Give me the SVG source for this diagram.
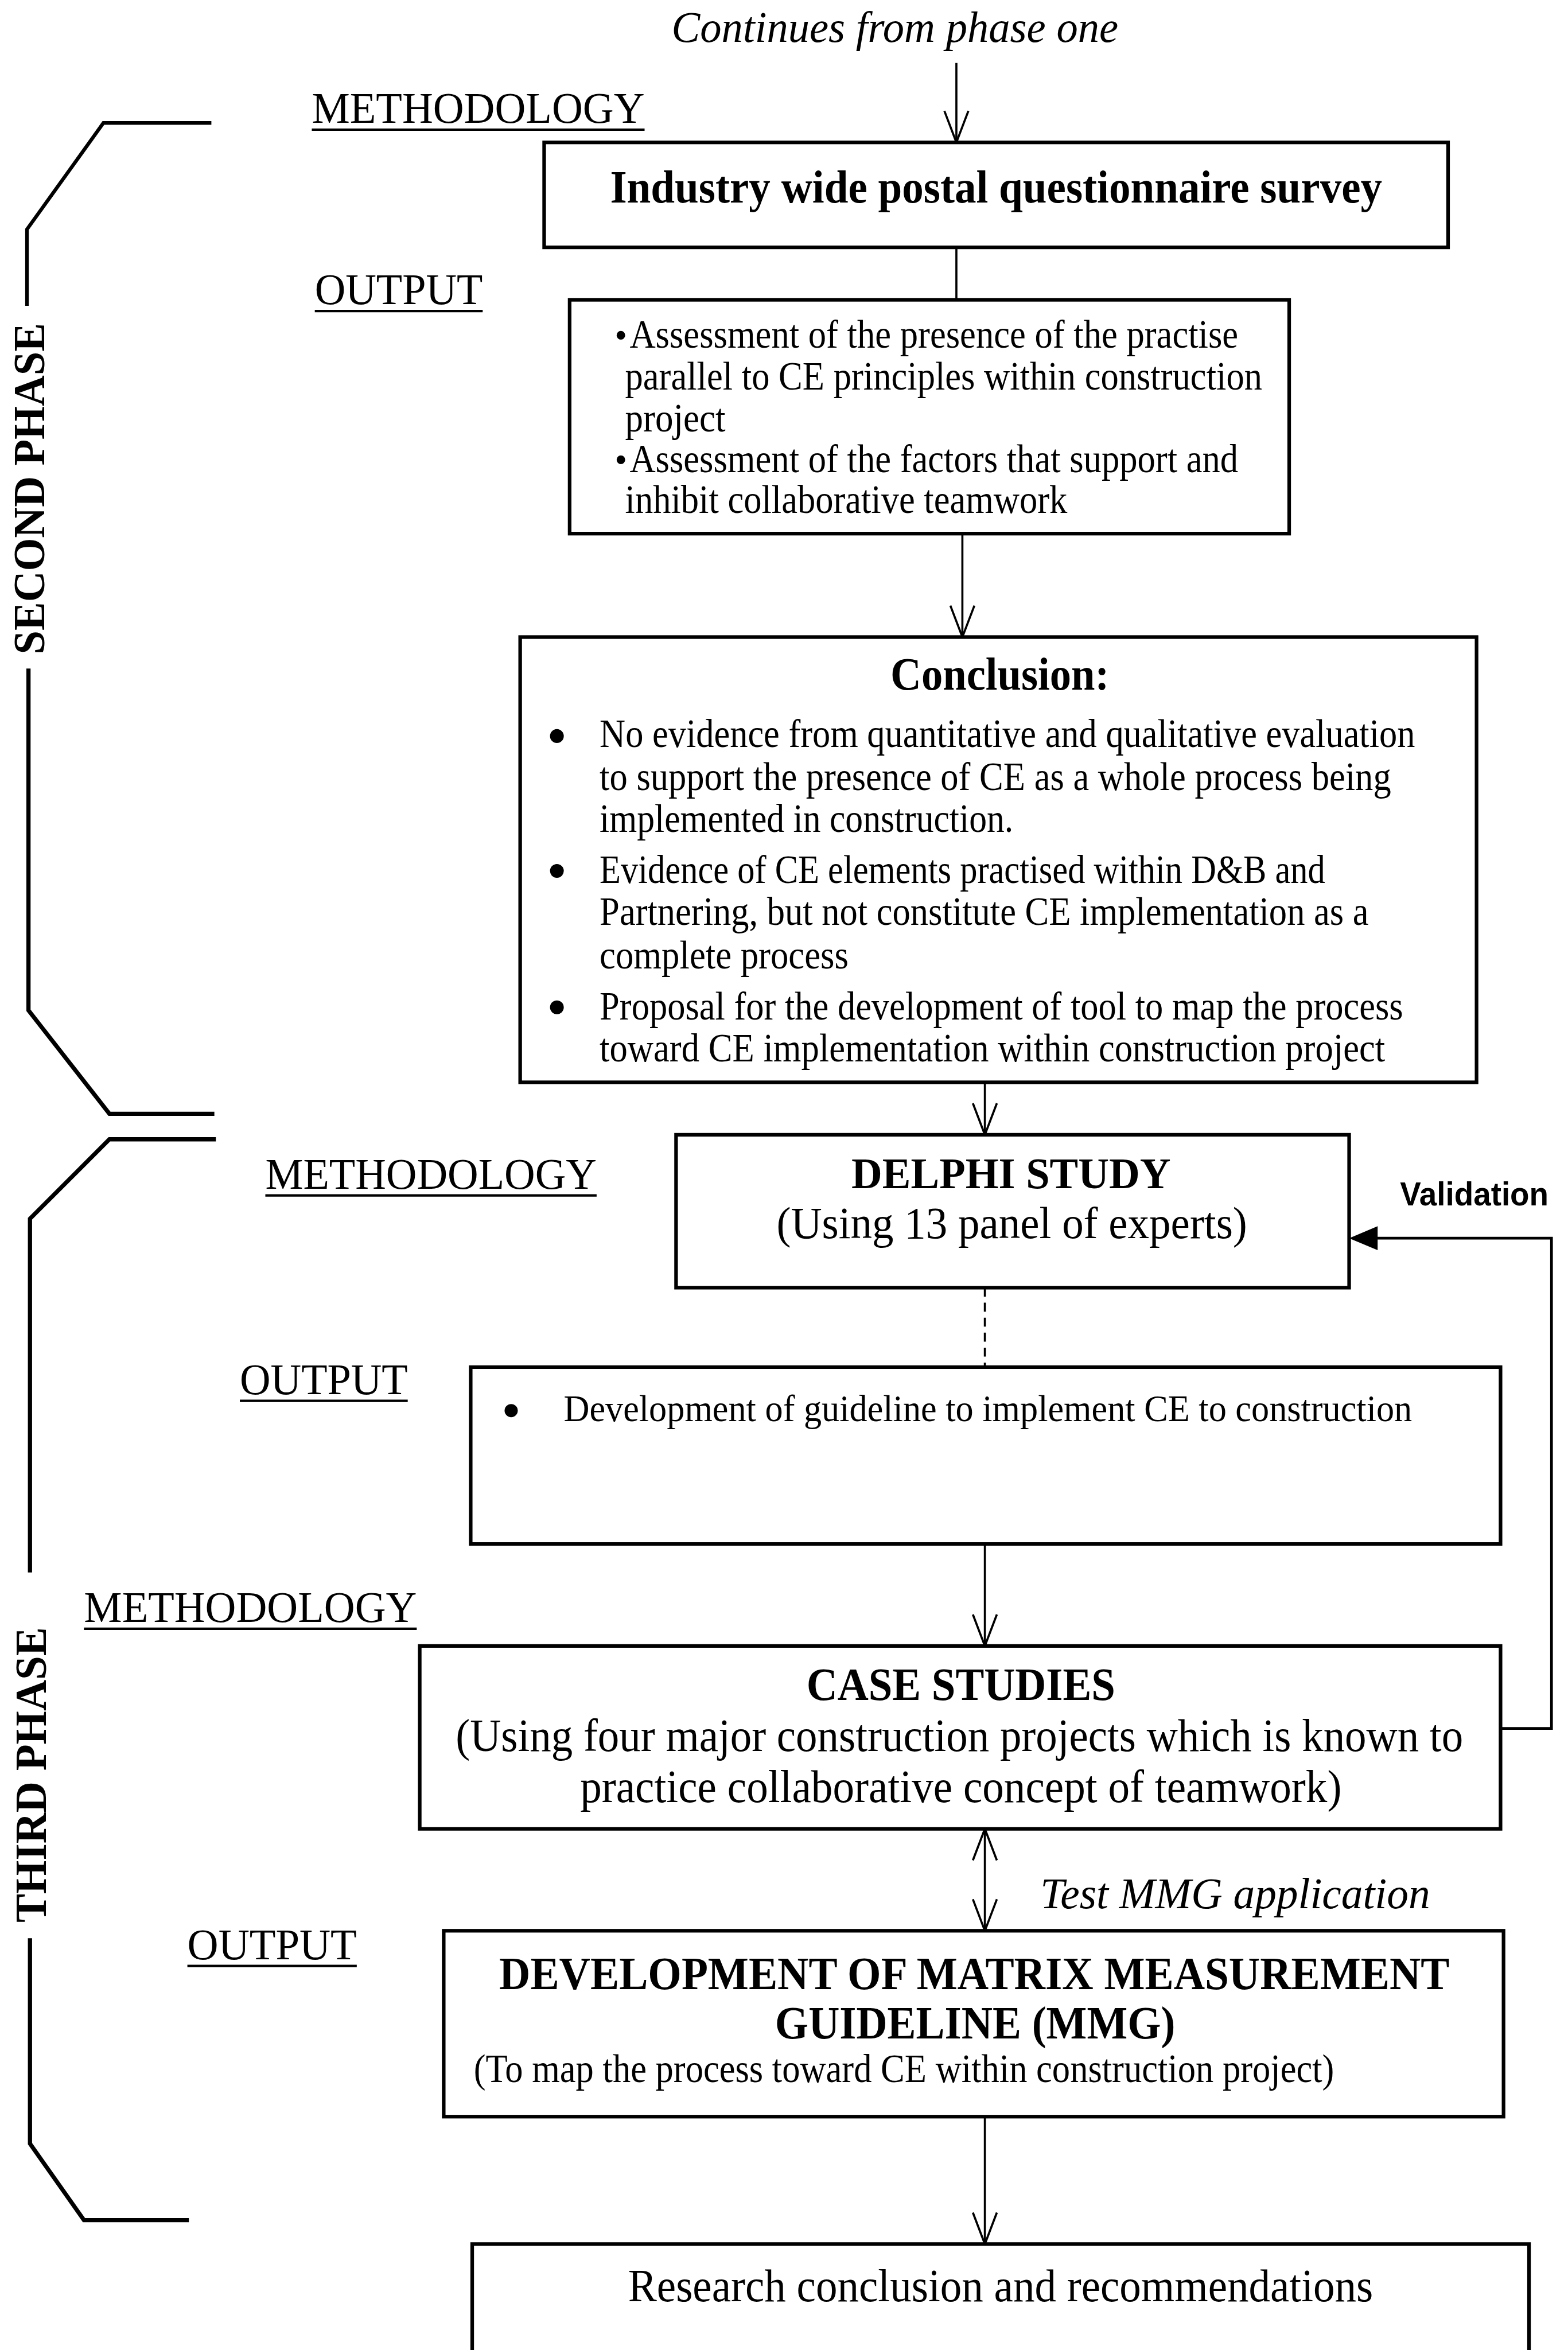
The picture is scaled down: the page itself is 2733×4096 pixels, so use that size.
<svg xmlns="http://www.w3.org/2000/svg" width="2733" height="4096" viewBox="0 0 2733 4096">
  <defs>
    <style>
      .t { font-family: "Liberation Serif", "Times New Roman", serif; fill: #000; }
      .b { font-weight: bold; }
      .i { font-style: italic; }
      .box { fill: #fff; stroke: #000; stroke-width: 2.4; }
      .ln { fill: none; stroke: #000; stroke-width: 1.4; }
      .brace { fill: none; stroke: #000; stroke-width: 2.4; stroke-linejoin: miter; }
      .ul { stroke: #000; stroke-width: 1.6; }
    </style>
    <marker id="open" viewBox="-22 -10 24 20" refX="0" refY="0" markerWidth="24" markerHeight="20" markerUnits="userSpaceOnUse" orient="auto-start-reverse">
      <path d="M-21,-8 L0,0 L-21,8" fill="none" stroke="#000" stroke-width="1.4"/>
    </marker>
  </defs>
  <rect width="2733" height="4096" fill="#fff"/>
  <g transform="scale(2.6128)">
    <!-- phase braces -->
    <g id="second-phase">
      <path class="brace" d="M141,82 L69,82 L18,153 L18,204"/>
      <path class="brace" d="M19,446 L19,674 L73,743 L143,743" style="stroke-width:2.8"/>
      <text class="t b" transform="translate(29.5,326) rotate(-90)" text-anchor="middle" font-size="30" textLength="221" lengthAdjust="spacingAndGlyphs">SECOND PHASE</text>
    </g>
    <g id="third-phase">
      <path class="brace" d="M144,760 L73,760 L20,813 L20,1049" style="stroke-width:2.8"/>
      <path class="brace" d="M20,1293 L20,1430 L56,1481 L126,1481" style="stroke-width:2.8"/>
      <text class="t b" transform="translate(30.5,1184) rotate(-90)" text-anchor="middle" font-size="30" textLength="197" lengthAdjust="spacingAndGlyphs">THIRD PHASE</text>
    </g>

    <!-- section labels -->
    <g id="labels">
      <text class="t i" x="448" y="28" font-size="29" textLength="298" lengthAdjust="spacingAndGlyphs">Continues from phase one</text>
      <text class="t" x="208" y="82" font-size="29" textLength="222" lengthAdjust="spacingAndGlyphs">METHODOLOGY</text>
      <line class="ul" x1="208" y1="86.5" x2="430" y2="86.5"/>
      <text class="t" x="210" y="203" font-size="29" textLength="112" lengthAdjust="spacingAndGlyphs">OUTPUT</text>
      <line class="ul" x1="210" y1="207.5" x2="322" y2="207.5"/>
      <text class="t" x="177" y="793" font-size="29" textLength="221" lengthAdjust="spacingAndGlyphs">METHODOLOGY</text>
      <line class="ul" x1="177" y1="797.5" x2="398" y2="797.5"/>
      <text class="t" x="160" y="930" font-size="29" textLength="112" lengthAdjust="spacingAndGlyphs">OUTPUT</text>
      <line class="ul" x1="160" y1="934.5" x2="272" y2="934.5"/>
      <text class="t" x="56" y="1082" font-size="29" textLength="222" lengthAdjust="spacingAndGlyphs">METHODOLOGY</text>
      <line class="ul" x1="56" y1="1086.5" x2="278" y2="1086.5"/>
      <text class="t" x="125" y="1307" font-size="29" textLength="113" lengthAdjust="spacingAndGlyphs">OUTPUT</text>
      <line class="ul" x1="125" y1="1311.5" x2="238" y2="1311.5"/>
      <text class="t i" x="694" y="1273" font-size="29" textLength="260" lengthAdjust="spacingAndGlyphs">Test MMG application</text>
      <text class="b" x="934" y="804" font-family="Liberation Sans, Arial, sans-serif" font-size="22" textLength="99" lengthAdjust="spacingAndGlyphs">Validation</text>
    </g>

    <!-- connectors -->
    <g id="connectors">
      <line class="ln" x1="638" y1="42" x2="638" y2="95" marker-end="url(#open)"/>
      <line class="ln" x1="638" y1="165" x2="638" y2="200"/>
      <line class="ln" x1="642" y1="356" x2="642" y2="425" marker-end="url(#open)"/>
      <line class="ln" x1="657" y1="722" x2="657" y2="757" marker-end="url(#open)"/>
      <line class="ln" x1="657" y1="859" x2="657" y2="912" stroke-dasharray="6,4"/>
      <line class="ln" x1="657" y1="1030" x2="657" y2="1098" marker-end="url(#open)"/>
      <line class="ln" x1="657" y1="1220" x2="657" y2="1288" marker-start="url(#open)" marker-end="url(#open)"/>
      <line class="ln" x1="657" y1="1412" x2="657" y2="1497" marker-end="url(#open)"/>
      <polyline class="ln" points="1001,1153 1035,1153 1035,826 916,826" style="stroke-width:1.8"/>
      <polygon points="900,826 919,818 919,834" fill="#000"/>
    </g>

    <!-- process boxes -->
    <g id="survey">
      <rect class="box" x="363" y="95" width="603" height="70"/>
      <text class="t b" x="407" y="135" font-size="31" textLength="515" lengthAdjust="spacingAndGlyphs">Industry wide postal questionnaire survey</text>
    </g>
    <g id="survey-output">
      <rect class="box" x="380" y="200" width="480" height="156"/>
      <g class="t" font-size="27">
        <text x="410" y="232" font-size="24">•</text>
        <text x="420" y="232" textLength="406" lengthAdjust="spacingAndGlyphs">Assessment of the presence of the practise</text>
        <text x="417" y="260" textLength="425" lengthAdjust="spacingAndGlyphs">parallel to CE principles within construction</text>
        <text x="417" y="288" textLength="67" lengthAdjust="spacingAndGlyphs">project</text>
        <text x="410" y="315" font-size="24">•</text>
        <text x="420" y="315" textLength="406" lengthAdjust="spacingAndGlyphs">Assessment of the factors that support and</text>
        <text x="417" y="342" textLength="295" lengthAdjust="spacingAndGlyphs">inhibit collaborative teamwork</text>
      </g>
    </g>
    <g id="conclusion">
      <rect class="box" x="347" y="425" width="638" height="297"/>
      <text class="t b" x="594" y="460" font-size="31" textLength="146" lengthAdjust="spacingAndGlyphs">Conclusion:</text>
      <circle cx="371.5" cy="491" r="4.6"/>
      <circle cx="371.5" cy="581" r="4.6"/>
      <circle cx="371.5" cy="672" r="4.6"/>
      <g class="t" font-size="27">
        <text x="400" y="498.5" textLength="544" lengthAdjust="spacingAndGlyphs">No evidence from quantitative and qualitative evaluation</text>
        <text x="400" y="527" textLength="528" lengthAdjust="spacingAndGlyphs">to support the presence of CE as a whole process being</text>
        <text x="400" y="555" textLength="276" lengthAdjust="spacingAndGlyphs">implemented in construction.</text>
        <text x="400" y="589" textLength="484" lengthAdjust="spacingAndGlyphs">Evidence of CE elements practised within D&amp;B and</text>
        <text x="400" y="617" textLength="513" lengthAdjust="spacingAndGlyphs">Partnering, but not constitute CE implementation as a</text>
        <text x="400" y="646" textLength="166" lengthAdjust="spacingAndGlyphs">complete process</text>
        <text x="400" y="680" textLength="536" lengthAdjust="spacingAndGlyphs">Proposal for the development of tool to map the process</text>
        <text x="400" y="708" textLength="524" lengthAdjust="spacingAndGlyphs">toward CE implementation within construction project</text>
      </g>
    </g>
    <g id="delphi">
      <rect class="box" x="451" y="757" width="449" height="102"/>
      <text class="t b" x="568" y="792.5" font-size="29" textLength="213" lengthAdjust="spacingAndGlyphs">DELPHI STUDY</text>
      <text class="t" x="518" y="826" font-size="30" textLength="314" lengthAdjust="spacingAndGlyphs">(Using 13 panel of experts)</text>
    </g>
    <g id="guideline-output">
      <rect class="box" x="314" y="912" width="687" height="118"/>
      <circle cx="341" cy="941" r="4.4"/>
      <text class="t" x="376" y="948" font-size="25" textLength="566" lengthAdjust="spacingAndGlyphs">Development of guideline to implement CE to construction</text>
    </g>
    <g id="case-studies">
      <rect class="box" x="280" y="1098" width="721" height="122"/>
      <text class="t b" x="538" y="1134" font-size="31" textLength="206" lengthAdjust="spacingAndGlyphs">CASE STUDIES</text>
      <text class="t" x="304" y="1168" font-size="31" textLength="672" lengthAdjust="spacingAndGlyphs">(Using four major construction projects which is known to</text>
      <text class="t" x="387" y="1202" font-size="31" textLength="508" lengthAdjust="spacingAndGlyphs">practice collaborative concept of teamwork)</text>
    </g>
    <g id="mmg">
      <rect class="box" x="296" y="1288" width="707" height="124"/>
      <text class="t b" x="333" y="1327" font-size="31" textLength="634" lengthAdjust="spacingAndGlyphs">DEVELOPMENT OF MATRIX MEASUREMENT</text>
      <text class="t b" x="517" y="1360" font-size="31" textLength="267" lengthAdjust="spacingAndGlyphs">GUIDELINE (MMG)</text>
      <text class="t" x="316" y="1389" font-size="26.5" textLength="574" lengthAdjust="spacingAndGlyphs">(To map the process toward CE within construction project)</text>
    </g>
    <g id="research-conclusion">
      <rect class="box" x="315" y="1497" width="705" height="72"/>
      <text class="t" x="419" y="1535" font-size="31" textLength="497" lengthAdjust="spacingAndGlyphs">Research conclusion and recommendations</text>
    </g>
  </g>
</svg>
